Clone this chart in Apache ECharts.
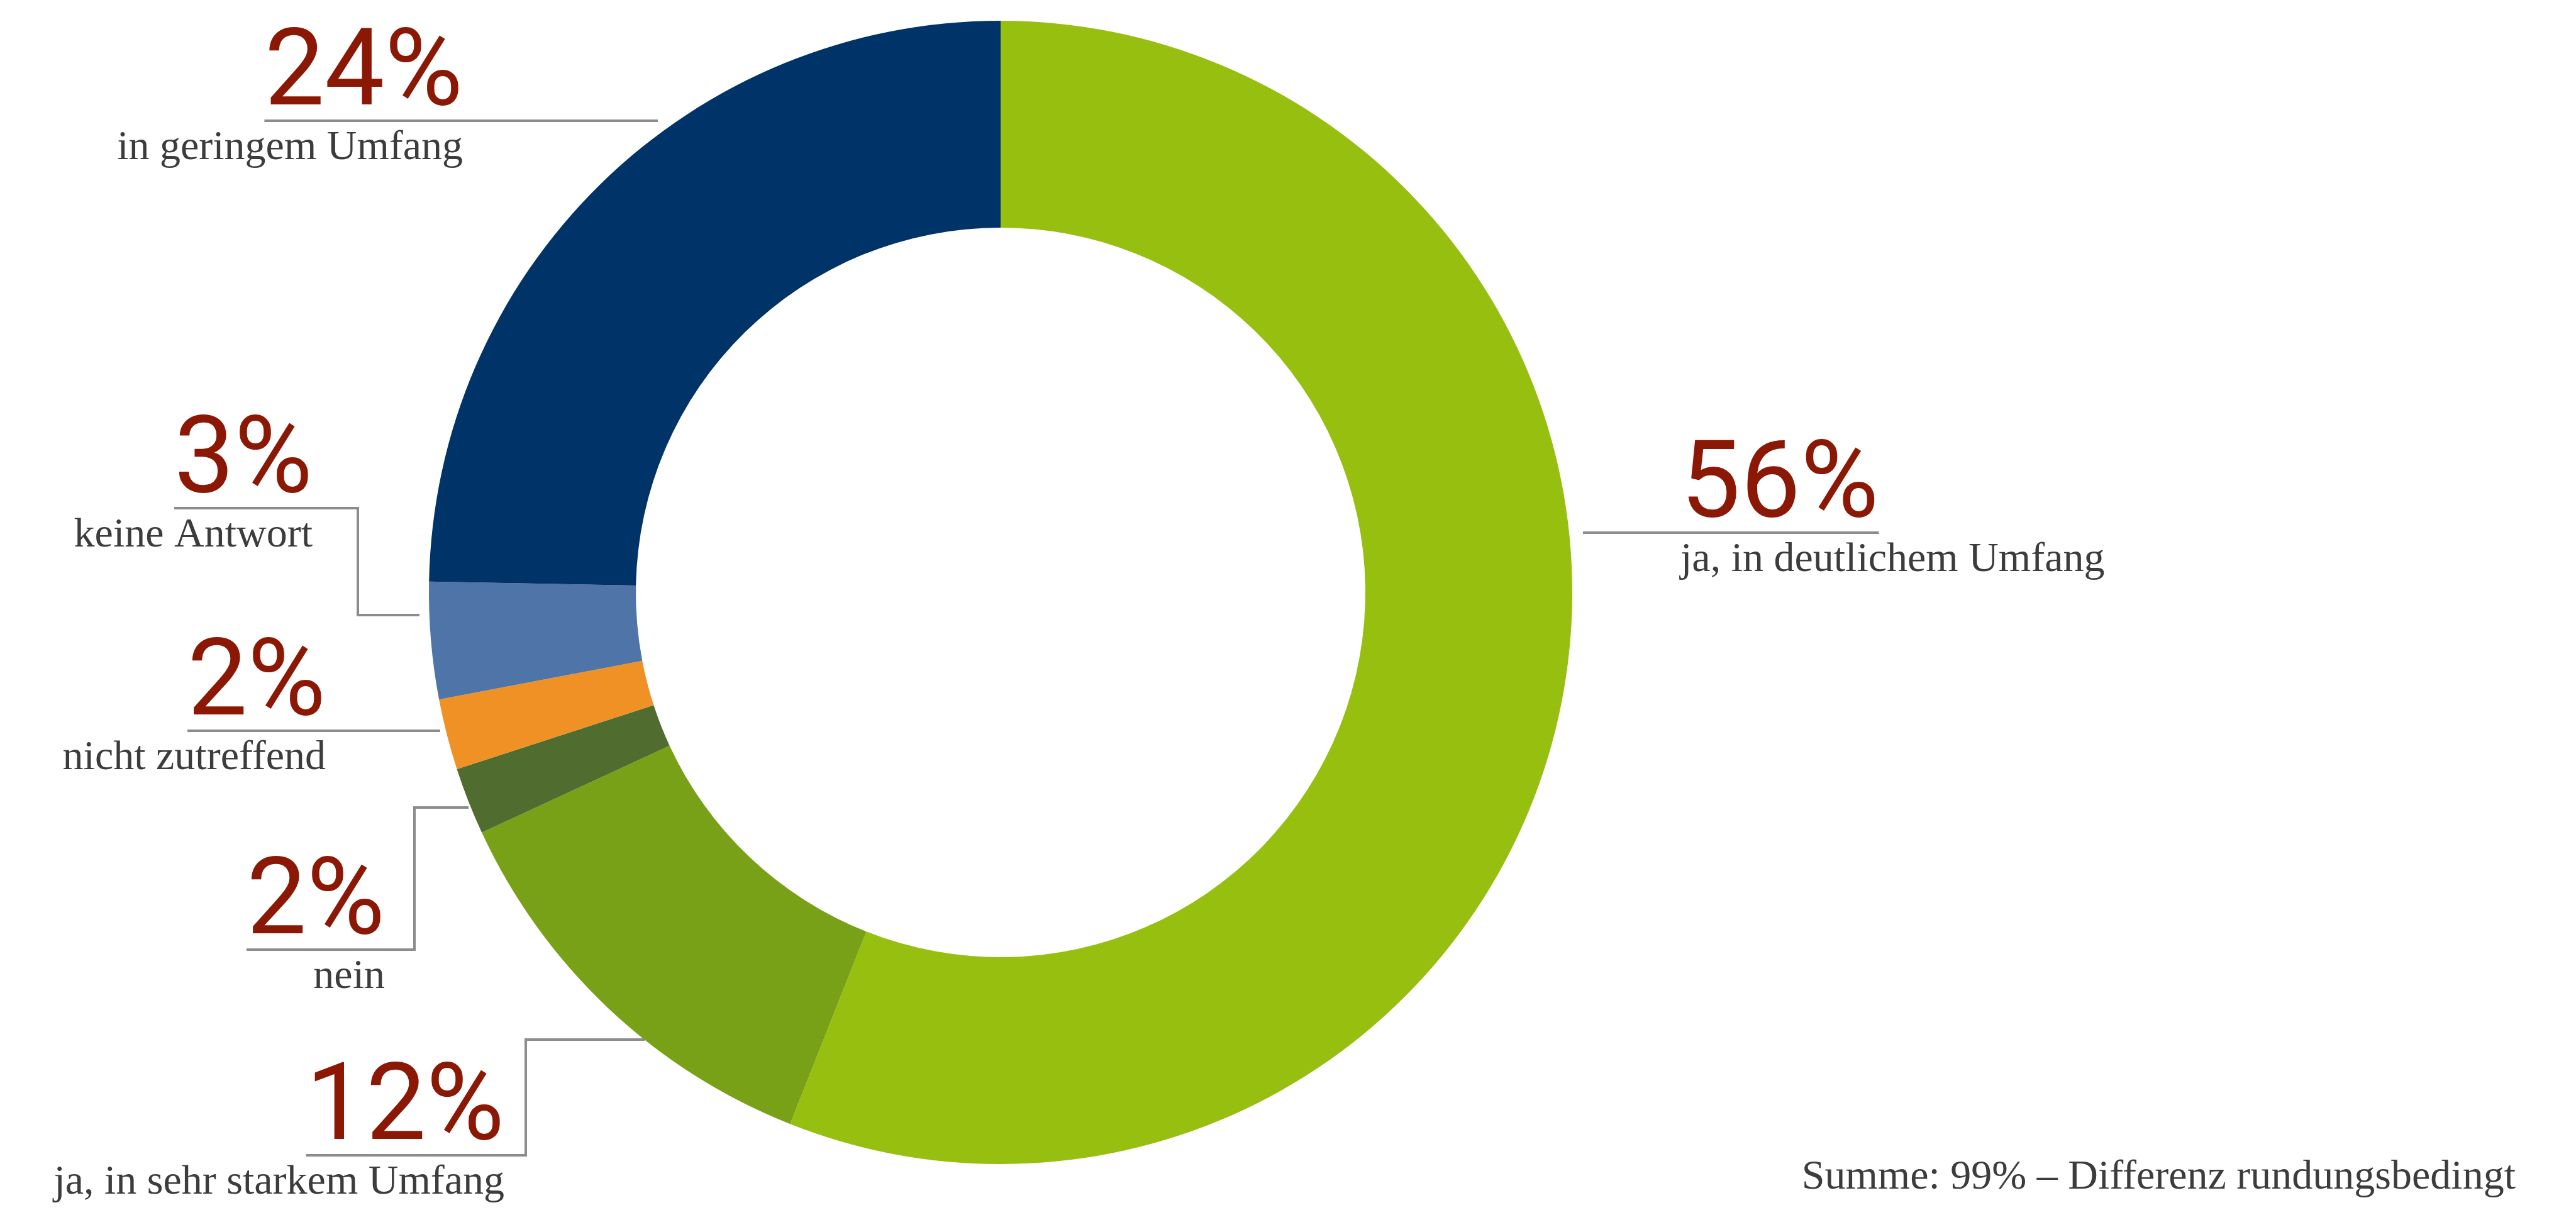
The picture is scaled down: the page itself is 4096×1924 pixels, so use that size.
<!DOCTYPE html>
<html>
<head>
<meta charset="utf-8" />
<title>Umfang</title>
<script src="https://cdn.jsdelivr.net/npm/echarts@6/dist/echarts.min.js"></script>
<style type="text/css">
html, body { margin: 0; padding: 0; background: #fff; }
#main { width: 4096px; height: 1924px; }
</style>
</head>
<body>
<div id="main"></div>
<script type="text/javascript">
var categories = ["ja, in deutlichem Umfang", "ja, in sehr starkem Umfang", "nein", "nicht zutreffend", "keine Antwort", "in geringem Umfang"];
var shares = [56.0, 12.1, 1.9, 2.0, 3.3, 24.7];
// angezeigte, gerundete Prozentwerte
var percentLabels = [56, 12, 2, 2, 3, 24];
var colors = ["#97bf0f", "#78a118", "#506c2f", "#ef9125", "#4f75a8", "#003469"];
var footnote = "Summe: 99% – Differenz rundungsbedingt";

var pctSize = 170;
var pctLine = 138;
var pctColor = "#8b1804";
var nameColor = "#3c3c3c";
var lineColor = "#8c8c8c";

// Position der Beschriftungen (px): Textkante x, Unterstrich y, Knick bis zum Ring
var labelPos = [
	{ side: "left", x: 2672, y: 847, path: [[2517, 847]] },
	{ side: "right", x: 802, y: 1837, path: [[836, 1837], [836, 1653], [1025, 1653]] },
	{ side: "right", x: 612, y: 1510, path: [[659, 1510], [659, 1284], [745, 1284]] },
	{ side: "right", x: 518, y: 1162, path: [[700, 1162]] },
	{ side: "right", x: 497, y: 808, path: [[569, 808], [569, 978], [667, 978]] },
	{ side: "right", x: 736, y: 192, path: [[1046, 192]] }
];

var ctx = document.createElement("canvas").getContext("2d");
ctx.font = pctSize + "px Roboto";
function pctWidth(i) {
	return ctx.measureText(percentLabels[i] + "%").width;
}

var myChart = echarts.init(document.getElementById("main"));

var data = categories.map(function (name, i) {
	var a = labelPos[i].side;
	return {
		name: name,
		value: shares[i],
		itemStyle: { color: colors[i] },
		label: {
			rich: {
				p: { fontFamily: "Roboto", fontWeight: 400, fontSize: pctSize, color: pctColor, lineHeight: pctLine, align: a },
				n: { fontFamily: "Liberation Serif", fontSize: 66, color: nameColor, lineHeight: 88, align: a }
			}
		}
	};
});

option = {
	backgroundColor: "#ffffff",
	animation: false,
	series: [{
		type: "pie",
		center: [1591, 942],
		radius: [580, 909],
		startAngle: 90,
		clockwise: true,
		avoidLabelOverlap: false,
		itemStyle: { borderWidth: 0 },
		label: {
			show: true,
			position: "outside",
			formatter: function (p) {
				return "{p|" + percentLabels[p.dataIndex] + "%}\n{n|" + p.name + "}";
			}
		},
		labelLine: {
			show: true,
			lineStyle: { color: lineColor, width: 4 }
		},
		labelLayout: function (params) {
			var i = params.dataIndex;
			var lp = labelPos[i];
			var w = pctWidth(i);
			var pts;
			if (lp.side === "left") {
				pts = lp.path.concat([[lp.x + w, lp.y]]);
			} else {
				pts = [[lp.x - w, lp.y]].concat(lp.path);
			}
			return {
				x: lp.x,
				y: lp.y - pctLine,
				align: lp.side,
				verticalAlign: "top",
				labelLinePoints: pts
			};
		},
		data: data
	}],
	graphic: [{
		type: "text",
		style: {
			text: footnote,
			x: 4000,
			y: 1873,
			align: "right",
			verticalAlign: "middle",
			font: '66px "Liberation Serif"',
			fill: nameColor
		}
	}]
};

myChart.setOption(option);
</script>
</body>
</html>
